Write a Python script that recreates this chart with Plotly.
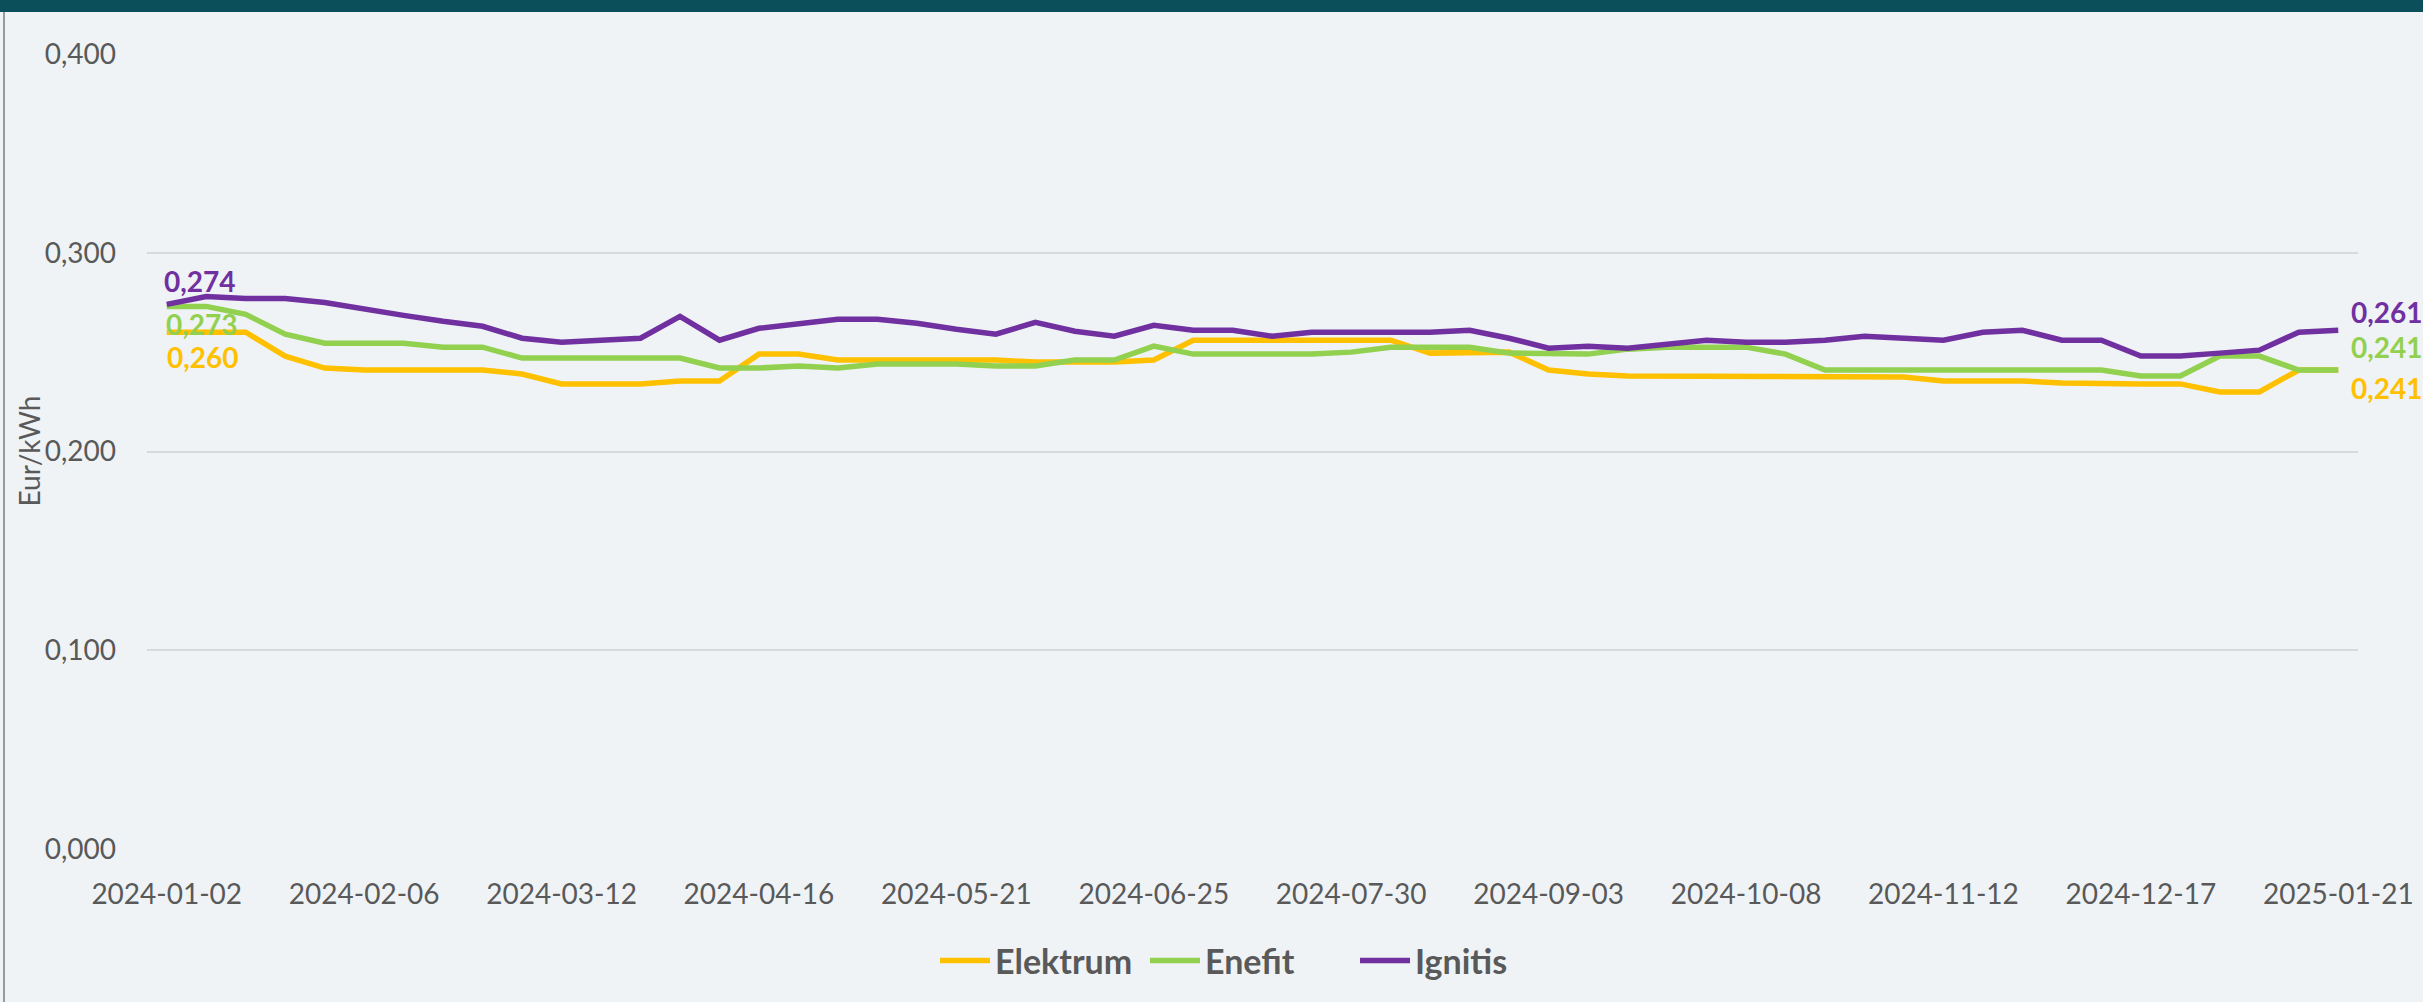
import plotly.graph_objects as go

# ---------------- data ----------------
dates = [
    "2024-01-02", "2024-01-09", "2024-01-16", "2024-01-23", "2024-01-30",
    "2024-02-06", "2024-02-13", "2024-02-20", "2024-02-27", "2024-03-05",
    "2024-03-12", "2024-03-19", "2024-03-26", "2024-04-02", "2024-04-09",
    "2024-04-16", "2024-04-23", "2024-04-30", "2024-05-07", "2024-05-14",
    "2024-05-21", "2024-05-28", "2024-06-04", "2024-06-11", "2024-06-18",
    "2024-06-25", "2024-07-02", "2024-07-09", "2024-07-16", "2024-07-23",
    "2024-07-30", "2024-08-06", "2024-08-13", "2024-08-20", "2024-08-27",
    "2024-09-03", "2024-09-10", "2024-09-17", "2024-09-24", "2024-10-01",
    "2024-10-08", "2024-10-15", "2024-10-22", "2024-10-29", "2024-11-05",
    "2024-11-12", "2024-11-19", "2024-11-26", "2024-12-03", "2024-12-10",
    "2024-12-17", "2024-12-24", "2024-12-31", "2025-01-07", "2025-01-14",
    "2025-01-21",
]

elektrum = [
    0.260, 0.260, 0.260, 0.248, 0.242, 0.241, 0.241, 0.241, 0.241, 0.239,
    0.234, 0.234, 0.234, 0.2355, 0.2355, 0.249, 0.249, 0.246, 0.246, 0.246,
    0.246, 0.246, 0.245, 0.245, 0.245, 0.246, 0.256, 0.256, 0.256, 0.256,
    0.256, 0.256, 0.2495, 0.2495, 0.250, 0.241, 0.239, 0.238, 0.238, 0.238,
    0.238, 0.238, 0.238, 0.238, 0.2375, 0.2355, 0.2355, 0.2355, 0.2345, 0.234,
    0.234, 0.234, 0.230, 0.230, 0.241, 0.241,
]

enefit = [
    0.273, 0.273, 0.269, 0.259, 0.2545, 0.2545, 0.2545, 0.2525, 0.2525, 0.247,
    0.247, 0.247, 0.247, 0.247, 0.242, 0.242, 0.243, 0.242, 0.244, 0.244,
    0.244, 0.243, 0.243, 0.246, 0.246, 0.253, 0.249, 0.249, 0.249, 0.249,
    0.250, 0.2525, 0.2525, 0.2525, 0.2495, 0.249, 0.249, 0.2515, 0.2525, 0.2525,
    0.2525, 0.249, 0.241, 0.241, 0.241, 0.241, 0.241, 0.241, 0.241, 0.241,
    0.238, 0.238, 0.248, 0.248, 0.241, 0.241,
]

ignitis = [
    0.274, 0.278, 0.277, 0.277, 0.275, 0.2715, 0.2685, 0.2655, 0.263, 0.257,
    0.255, 0.256, 0.257, 0.268, 0.256, 0.262, 0.264, 0.2665, 0.2665, 0.2645,
    0.2615, 0.259, 0.265, 0.2605, 0.258, 0.2635, 0.261, 0.261, 0.258, 0.260,
    0.260, 0.260, 0.260, 0.261, 0.257, 0.252, 0.253, 0.252, 0.254, 0.256,
    0.255, 0.255, 0.256, 0.258, 0.257, 0.256, 0.260, 0.261, 0.256, 0.256,
    0.248, 0.248, 0.2495, 0.251, 0.260, 0.261,
]

x_tick_labels = dates[::5]
y_tick_values = [0.0, 0.1, 0.2, 0.3, 0.4]
y_tick_labels = ["0,000", "0,100", "0,200", "0,300", "0,400"]
y_title = "Eur/kWh"

series = [
    ("Elektrum", elektrum, "#FFC000"),
    ("Enefit", enefit, "#92D050"),
    ("Ignitis", ignitis, "#7030A0"),
]

# ---------------- layout constants ----------------
W, H = 2423, 1002
L, R, T, B = 147, 65, 54, 153
PW, PH = W - L - R, H - T - B
FONT = "Lato"
GREY = "#595959"
BG = "#EFF3F6"


def px_to_paper_x(px):
    return (px - L) / PW


def px_to_paper_y(py):
    return (H - B - py) / PH


def fmt(v):
    return f"{v:.3f}".replace(".", ",")


fig = go.Figure()
for name, vals, color in series:
    fig.add_trace(go.Scatter(
        x=dates, y=vals, name=name, mode="lines",
        line=dict(color=color, width=5.5),
    ))

# data labels at first and last points: (xshift, yshift) in px
first_offsets = {"Elektrum": (-2, -25), "Enefit": (-3, -18), "Ignitis": (-5, 23)}
last_offsets = {"Elektrum": (11, -18), "Enefit": (11, 23), "Ignitis": (11, 18)}

annotations = []
for name, vals, color in series:
    for idx, offs in ((0, first_offsets), (len(vals) - 1, last_offsets)):
        xs, ys = offs[name]
        annotations.append(dict(
            x=dates[idx], y=vals[idx], xref="x", yref="y",
            text=fmt(vals[idx]), showarrow=False,
            xanchor="left", yanchor="middle", xshift=xs, yshift=ys,
            font=dict(family=FONT, size=28, color=color, weight="bold"),
        ))

annotations.append(dict(
    x=px_to_paper_x(28), y=0.5, xref="paper", yref="paper",
    text=y_title, showarrow=False, textangle=-90,
    xanchor="center", yanchor="middle",
    font=dict(family=FONT, size=28, color=GREY),
))

shapes = [
    # top dark band
    dict(type="rect", xref="paper", yref="paper",
         x0=px_to_paper_x(-5), x1=px_to_paper_x(W + 5),
         y0=px_to_paper_y(12), y1=px_to_paper_y(-5),
         fillcolor="#0A4F5A", line=dict(width=0), layer="above"),
    # left border
    dict(type="line", xref="paper", yref="paper",
         x0=px_to_paper_x(4), x1=px_to_paper_x(4),
         y0=px_to_paper_y(12), y1=px_to_paper_y(H + 5),
         line=dict(color="#9A9A9A", width=2)),
]

fig.update_layout(
    width=W, height=H,
    margin=dict(l=L, r=R, t=T, b=B, autoexpand=False),
    paper_bgcolor=BG, plot_bgcolor=BG,
    font=dict(family=FONT, size=28, color=GREY),
    showlegend=True,
    legend=dict(
        orientation="h", x=px_to_paper_x(1250), xanchor="center",
        y=px_to_paper_y(961), yanchor="middle",
        font=dict(family=FONT, size=34, color=GREY, weight="bold"),
        bgcolor="rgba(0,0,0,0)",
        itemwidth=50,
        entrywidth=145, entrywidthmode="pixels",
    ),
    xaxis=dict(
        type="category", range=[-0.5, len(dates) - 0.5],
        tickmode="array", tickvals=x_tick_labels, ticktext=x_tick_labels,
        showgrid=False, showline=False, zeroline=False,
        ticks="", ticklabelstandoff=26,
        tickfont=dict(family=FONT, size=28, color=GREY),
    ),
    yaxis=dict(
        range=[0, 0.4], tickmode="array",
        tickvals=y_tick_values, ticktext=y_tick_labels,
        showgrid=True, gridcolor="#D9D9D9", gridwidth=1.5,
        zeroline=False, showline=False, ticks="", ticklabelstandoff=30,
        tickfont=dict(family=FONT, size=28, color=GREY),
    ),
    annotations=annotations,
    shapes=shapes,
)

fig.write_html(
    "out.html",
    config={"displayModeBar": False},
    post_script="document.body.style.margin='0';document.body.style.overflow='hidden';"
                "document.body.style.background='" + BG + "';",
)
